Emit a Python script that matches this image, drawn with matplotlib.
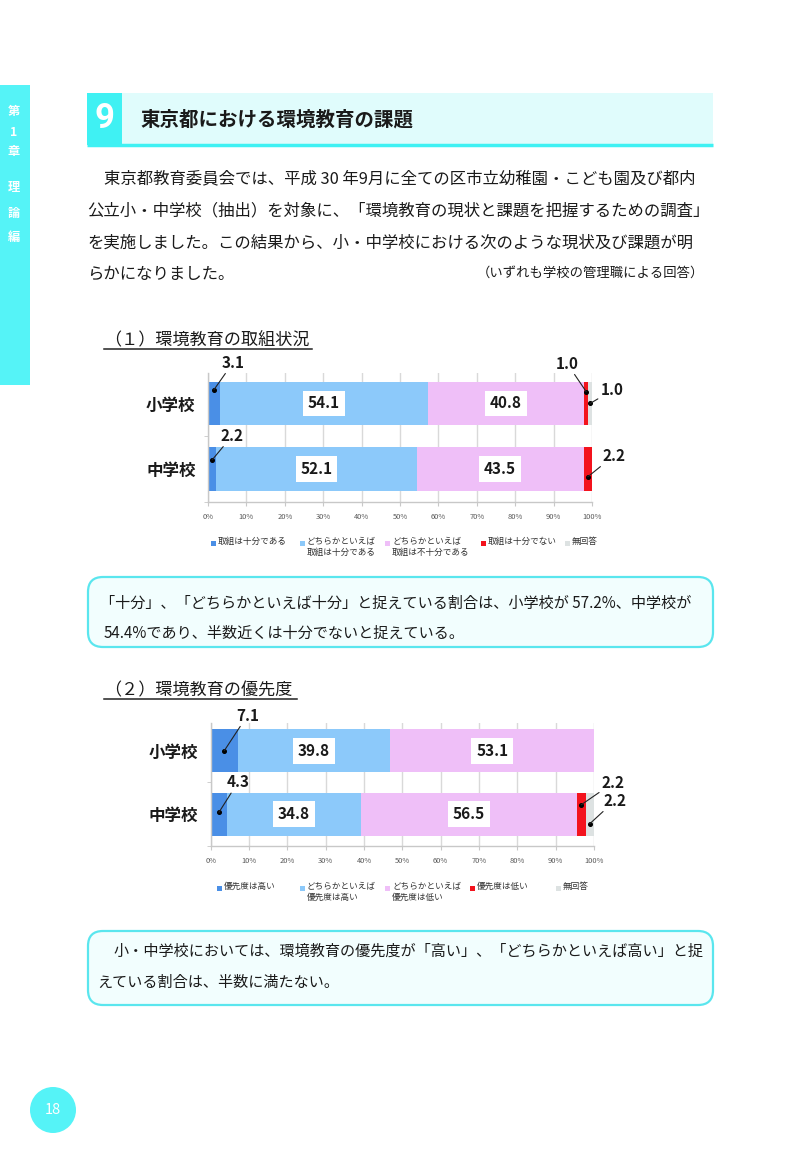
import matplotlib
matplotlib.use('Agg')
import matplotlib.pyplot as plt
from matplotlib.patches import Rectangle, FancyBboxPatch, Circle
import numpy as np

plt.rcParams['font.family'] = ['Noto Sans CJK JP', 'DejaVu Sans']

# ---------------- data ----------------
schools = ['小学校', '中学校']

c1_labels = ['取組は十分である', 'どちらかといえば\n取組は十分である',
             'どちらかといえば\n取組は不十分である', '取組は十分でない', '無回答']
c1_sufficient = [3.1, 2.2]
c1_fairly_sufficient = [54.1, 52.1]
c1_fairly_insufficient = [40.8, 43.5]
c1_insufficient = [1.0, 2.2]
c1_no_answer = [1.0, 0.0]

c2_labels = ['優先度は高い', 'どちらかといえば\n優先度は高い',
             'どちらかといえば\n優先度は低い', '優先度は低い', '無回答']
c2_high = [7.1, 4.3]
c2_fairly_high = [39.8, 34.8]
c2_fairly_low = [53.1, 56.5]
c2_low = [0.0, 2.2]
c2_no_answer = [0.0, 2.2]

x_ticks = [0, 10, 20, 30, 40, 50, 60, 70, 80, 90, 100]
x_ticklabels = ['0%', '10%', '20%', '30%', '40%', '50%', '60%', '70%', '80%', '90%', '100%']

# ---------------- style ----------------
colors = ['#4a8fe6', '#8cc9fa', '#efbff8', '#f3131d', '#dde2e2']
CYAN = '#55f3f7'
W, H = 800, 1156

fig = plt.figure(figsize=(W / 100, H / 100), dpi=100)
bg = fig.add_axes([0, 0, 1, 1], zorder=0)
bg.set_xlim(0, W)
bg.set_ylim(H, 0)
bg.axis('off')


def T(x, y, s, size, **kw):
    kw.setdefault('va', 'center')
    kw.setdefault('ha', 'left')
    kw.setdefault('color', '#1a1a1a')
    return bg.text(x, y, s, fontsize=size, **kw)


# side tab
bg.add_patch(Rectangle((0, 85), 30, 300, fc=CYAN, ec='none'))
for ch, yy in zip(['第', '1', '章', '理', '論', '編'], [112, 133, 152, 188, 213, 237]):
    T(14, yy, ch, 8.8, ha='center', color='white', fontweight='bold')

# header
bg.add_patch(Rectangle((121, 93), 592, 51, fc='#e0fcfc', ec='none'))
bg.add_patch(Rectangle((87, 93), 35, 52, fc='#3ff1f3', ec='none'))
bg.plot([87, 713], [145, 145], color='#3ff1f3', lw=2.5, solid_capstyle='butt')
T(104, 118, '9', 25, ha='center', color='white', fontweight='bold',
  family=['Roboto', 'DejaVu Sans'])
T(140, 120, '東京都における環境教育の課題', 14, fontweight='bold')

# body text
body = 11.8
T(104, 179, '東京都教育委員会では、平成 30 年9月に全ての区市立幼稚園・こども園及び都内', body)
T(87, 211, '公立小・中学校（抽出）を対象に、「環境教育の現状と課題を把握するための調査」', body)
T(87, 243, 'を実施しました。この結果から、小・中学校における次のような現状及び課題が明', body)
T(87, 274, 'らかになりました。', body)
T(704, 273, '（いずれも学校の管理職による回答）', 9.6, ha='right')

# section headings
T(104, 340, '（１）環境教育の取組状況', 12.3)
bg.plot([104, 312], [348.5, 348.5], color='#222222', lw=1.1)
T(104, 690, '（２）環境教育の優先度', 12.3)
bg.plot([104, 297], [698.5, 698.5], color='#222222', lw=1.1)

# comment boxes
for (by, bh) in [(577, 70), (931, 74)]:
    bg.add_patch(FancyBboxPatch((88, by), 625, bh, boxstyle='round,pad=0,rounding_size=15',
                                ec='#5ae6ee', fc='#f2fefe', lw=1.6))
box = 10.9
T(100, 603, '「十分」、「どちらかといえば十分」と捉えている割合は、小学校が 57.2%、中学校が', box)
T(104, 633, '54.4%であり、半数近くは十分でないと捉えている。', box)
T(113, 951, '小・中学校においては、環境教育の優先度が「高い」、「どちらかといえば高い」と捉', box)
T(97, 982, 'えている割合は、半数に満たない。', box)

# page number
bg.add_patch(Circle((53, 1110), 23, fc=CYAN, ec='none'))
T(53, 1110, '18', 10.5, ha='center', color='white')


def draw_chart(rect_px, series, callouts, legend_labels, legend_x, legend_y, ylim):
    x0, y0, x1, y1 = rect_px
    ax = fig.add_axes([x0 / W, 1 - y1 / H, (x1 - x0) / W, (y1 - y0) / H], zorder=2)
    ax.set_facecolor('none')
    ypos = np.arange(len(schools))
    left = np.zeros(len(schools))
    for k, vals in enumerate(series):
        vals = np.asarray(vals, dtype=float)
        ax.barh(ypos, vals, left=left, height=0.67, color=colors[k], zorder=2)
        for i, v in enumerate(vals):
            xc = left[i] + v / 2
            if v >= 10:
                ax.text(xc, ypos[i], f'{v:.1f}', ha='center', va='center', fontsize=11,
                        fontweight='bold', color='#1a1a1a', zorder=4,
                        bbox=dict(boxstyle='square,pad=0.32', fc='white', ec='none'))
            elif v > 0:
                dy, ox, oy = callouts[(i, k)]
                ax.plot(xc, ypos[i] + dy, 'o', ms=2.6, color='black', zorder=5, clip_on=False)
                ax.annotate(f'{v:.1f}', xy=(xc, ypos[i] + dy), xytext=(ox, -oy),
                            textcoords='offset pixels', ha='center', va='center',
                            fontsize=11, fontweight='bold', color='#1a1a1a',
                            annotation_clip=False, zorder=5,
                            arrowprops=dict(arrowstyle='-', color='#222222', lw=0.8,
                                            shrinkA=0, shrinkB=0))
        left = left + vals
    ax.set_xlim(0, 100)
    ax.set_ylim(*ylim)
    ax.set_xticks(x_ticks)
    ax.set_xticklabels(x_ticklabels, fontsize=5.4, color='#595959')
    ax.xaxis.grid(True, color='#d9d9d9', lw=1)
    ax.set_axisbelow(True)
    ax.tick_params(axis='x', length=3, color='#c8c8c8', pad=5)
    ax.set_yticks(ypos)
    ax.set_yticklabels(schools, fontsize=11.9, fontweight='bold', color='#1a1a1a')
    ax.tick_params(axis='y', length=0, pad=9)
    ax.set_yticks([0.5, 1.5], minor=True)
    ax.tick_params(axis='y', which='minor', length=3, color='#c8c8c8')
    for s in ['top', 'right']:
        ax.spines[s].set_visible(False)
    for s in ['left', 'bottom']:
        ax.spines[s].set_color('#c8c8c8')
        ax.spines[s].set_linewidth(1)
    # legend (drawn on page)
    for lab, col, lx in zip(legend_labels, colors, legend_x):
        bg.add_patch(Rectangle((lx - 2.5, legend_y - 2.5), 5, 5, fc=col, ec='none'))
        T(lx + 5, legend_y - 6.3, lab, 6.2, va='top', color='#333333', linespacing=1.3)
    return ax


draw_chart((208, 372.7, 592, 501.7),
           [c1_sufficient, c1_fairly_sufficient, c1_fairly_insufficient, c1_insufficient, c1_no_answer],
           {(0, 0): (-0.21, 19, -27), (0, 3): (-0.18, -19, -28), (0, 4): (0.0, 22, -13),
            (1, 0): (-0.14, 20, -24), (1, 3): (0.12, 26, -21)},
           c1_labels, [213, 302, 387, 483, 567], 543, (1.5, -0.47))

draw_chart((210.7, 722.7, 594, 846),
           [c2_high, c2_fairly_high, c2_fairly_low, c2_low, c2_no_answer],
           {(0, 0): (0.0, 23, -35), (1, 0): (-0.03, 19, -30),
            (1, 3): (-0.15, 32, -22), (1, 4): (0.15, 25, -23)},
           c2_labels, [219, 302, 387, 472, 558], 888, (1.5, -0.44))

fig.savefig('out.png', dpi=100, facecolor='white')
